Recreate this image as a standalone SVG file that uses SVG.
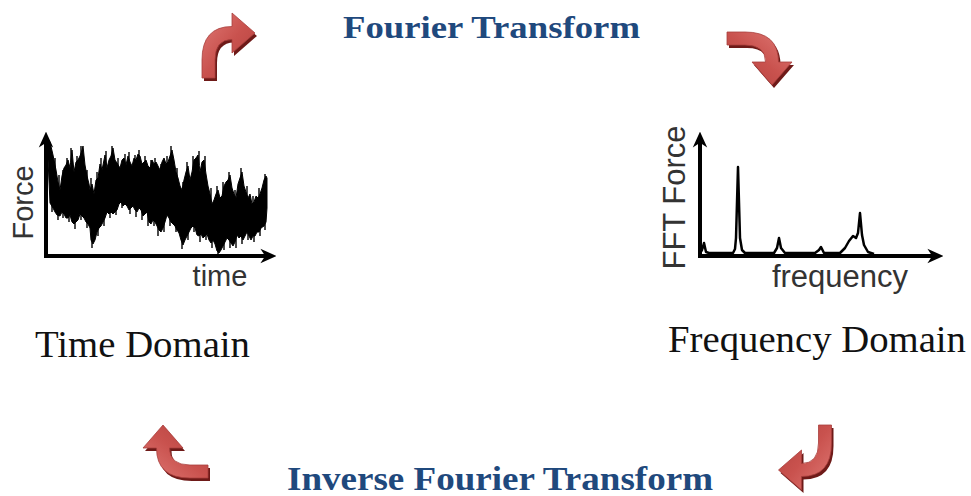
<svg xmlns="http://www.w3.org/2000/svg" width="971" height="496" viewBox="0 0 971 496">
  <style>
    .title { font-family: "Liberation Serif", "Times New Roman", serif; font-weight: bold; fill: #1f497d; }
    .domain { font-family: "Liberation Serif", "Times New Roman", serif; fill: #111; font-size: 37px; }
    .axis-label { font-family: "Liberation Sans", Arial, sans-serif; fill: #333; }
    .axis { stroke: #000; stroke-width: 4; fill: none; }
    .arrow-body { fill: url(#arrowFill); stroke: #a83f3c; stroke-width: 0.8; }
    .arrow-shadow { fill: #6e1a18; }
  </style>
  <defs>
    <linearGradient id="arrowFill" x1="0" y1="0" x2="1" y2="1">
      <stop offset="0" stop-color="#e07a76"/>
      <stop offset="0.5" stop-color="#c9524e"/>
      <stop offset="1" stop-color="#b2403d"/>
    </linearGradient>
    <!-- Curved arrow: shaft starts at the origin, bends and points right -->
    <path id="bentArrow" d="M -6.5 0 L -6.5 -18 Q -6.5 -51.5 23.5 -51.5 L 23.5 -65 L 46.5 -45 L 23.5 -25 L 23.5 -38.5 Q 6.5 -38.5 6.5 -18 L 6.5 0 Z"/>
    <marker id="axisHead" viewBox="0 0 10 10" refX="6" refY="5" markerWidth="4" markerHeight="4" orient="auto" markerUnits="strokeWidth">
      <path d="M 0 0.5 L 10 5 L 0 9.5 L 3 5 Z" fill="#000"/>
    </marker>
  </defs>

  <!-- Time domain plot -->
  <g id="time-domain">
    <path fill="#000" stroke="#000" stroke-width="1" d="M47,138 L50,142 53,155 56,170 58,182 60,190 62,176 64,168 66,165 68,160 70,168 72,150 74,172 76,162 78,160 80,156 82,150 83,146 85,165 87,176 89,184 90,190 92,184 94,194 96,180 98,178 100,164 102,170 104,160 105,155 107,168 109,160 111,156 113,148 115,160 117,163 120,168 122,160 124,158 126,165 128,156 130,162 132,166 134,158 136,160 138,154 140,156 142,164 144,162 146,160 148,166 150,168 152,160 154,164 156,162 158,166 160,170 162,162 164,158 166,164 168,162 170,156 172,150 174,160 176,172 178,178 180,186 182,190 184,180 186,172 188,166 190,180 192,172 194,160 196,158 198,155 200,172 202,162 204,160 206,174 208,186 210,194 212,204 214,200 216,194 218,190 220,198 222,196 224,186 226,182 228,180 230,175 232,188 234,194 236,198 238,184 240,178 242,172 244,186 246,192 248,198 250,194 252,204 254,202 256,196 258,198 260,194 262,188 264,180 266,176 267,178 L267,208 266,222 264,226 261,228 259,232 257,232 255,236 253,236 251,240 249,236 247,232 245,236 243,240 241,236 239,238 237,235 235,242 233,246 231,243 229,240 227,238 225,242 223,246 221,250 219,253 217,251 215,244 213,240 211,243 209,240 207,234 205,236 203,238 201,234 199,236 197,235 195,228 193,226 191,228 189,232 187,236 185,240 183,245 181,240 179,233 177,230 175,226 173,224 171,222 169,218 167,215 165,222 163,228 161,232 159,230 157,226 155,222 153,220 151,224 149,222 147,212 145,214 143,216 141,210 139,208 137,212 135,210 133,206 131,208 129,210 127,206 125,204 123,206 121,202 119,204 117,210 115,212 113,214 111,212 109,214 107,212 105,218 103,222 101,226 99,228 97,232 95,240 93,244 91,240 90,228 88,224 86,222 84,218 82,216 80,214 78,220 76,222 74,224 72,222 70,215 68,218 66,218 64,214 62,212 60,216 57,215 55,212 53,208 50,203 Z"/>
    <!-- hairline excursions along the edges of the trace -->
    <path fill="none" stroke="#000" stroke-width="1.4" d="M55,158 v14 M59,175 v14 M63,170 v14 M67,158 v14 M71,148 v14 M77,156 v14 M81,146 v14 M87,170 v14 M91,178 v14 M97,172 v14 M101,158 v14 M106,151 v14 M112,146 v14 M118,158 v14 M125,154 v14 M129,152 v14 M135,155 v14 M139,150 v14 M145,156 v14 M151,160 v14 M155,158 v14 M161,164 v14 M167,156 v14 M171,146 v14 M177,168 v14 M183,182 v14 M187,162 v14 M193,156 v14 M199,151 v14 M205,156 v14 M211,188 v14 M217,186 v14 M223,182 v14 M229,172 v14 M235,190 v14 M241,168 v14 M247,186 v14 M253,196 v14 M259,188 v14 M265,174 v14 M52,212 v-14 M58,220 v-14 M63,218 v-14 M69,222 v-14 M75,229 v-14 M81,220 v-14 M87,228 v-14 M92,248 v-14 M98,236 v-14 M104,226 v-14 M110,218 v-14 M116,215 v-14 M122,208 v-14 M130,214 v-14 M136,217 v-14 M142,220 v-14 M148,226 v-14 M154,226 v-14 M158,236 v-14 M164,232 v-14 M170,226 v-14 M176,232 v-14 M182,249 v-14 M188,240 v-14 M194,232 v-14 M200,242 v-14 M206,240 v-14 M212,248 v-14 M218,255 v-14 M224,250 v-14 M230,248 v-14 M236,248 v-14 M242,244 v-14 M248,240 v-14 M254,242 v-14 M260,236 v-14 M265,230 v-14"/>
    <path class="axis" d="M46,256 L46,138" marker-end="url(#axisHead)"/>
    <path class="axis" d="M44,256 L270,256" marker-end="url(#axisHead)"/>
    <text class="axis-label" font-size="29" text-anchor="middle" transform="translate(33,202.5) rotate(-90)">Force</text>
    <text class="axis-label" font-size="29" x="220" y="286" text-anchor="middle">time</text>
    <text class="domain" x="35" y="357" textLength="215" lengthAdjust="spacingAndGlyphs">Time Domain</text>
  </g>

  <!-- Frequency domain plot -->
  <g id="frequency-domain">
    <path fill="none" stroke="#000" stroke-width="2.5" stroke-linejoin="round" d="M700,253 L702,250 704,243 706,252 709,253 L733,253 735,249 736,238 738,167 740,238 742,250 745,253 L774,253 777,248 779,238 781,248 785,253 L815,253 819,250 821,247 824,253 L840,253 845,248 849,241 853,236 856,238 858,233 860,213 862,235 864,245 868,252 874,254"/>
    <path class="axis" d="M700,256 L700,138" stroke-width="5" marker-end="url(#axisHead)"/>
    <path class="axis" d="M698,256 L937,256" marker-end="url(#axisHead)"/>
    <text class="axis-label" font-size="31" text-anchor="middle" transform="translate(685,197.5) rotate(-90)">FFT Force</text>
    <text class="axis-label" font-size="31" x="840" y="287" text-anchor="middle">frequency</text>
    <text class="domain" x="668" y="352" textLength="298" lengthAdjust="spacingAndGlyphs">Frequency Domain</text>
  </g>

  <g id="fourier-transform">
    <text class="title" x="343" y="38" font-size="32" textLength="297" lengthAdjust="spacingAndGlyphs">Fourier Transform</text>
  </g>

  <g id="inverse-fourier-transform">
    <text class="title" x="287" y="490" font-size="33" textLength="426" lengthAdjust="spacingAndGlyphs">Inverse Fourier Transform</text>
  </g>

  <!-- Cycle arrows -->
  <g id="connectors">
    <g transform="translate(210.5,81)"><use href="#bentArrow" class="arrow-shadow"/></g>
    <g transform="translate(208.5,78)"><use href="#bentArrow" class="arrow-body"/></g>

    <g transform="translate(729,41.5) rotate(90)"><use href="#bentArrow" class="arrow-shadow"/></g>
    <g transform="translate(727,38.5) rotate(90)"><use href="#bentArrow" class="arrow-body"/></g>

    <g transform="translate(210,474.5) rotate(-90)"><use href="#bentArrow" class="arrow-shadow"/></g>
    <g transform="translate(208,471.5) rotate(-90)"><use href="#bentArrow" class="arrow-body"/></g>

    <g transform="translate(827,428) rotate(180)"><use href="#bentArrow" class="arrow-shadow"/></g>
    <g transform="translate(825,425) rotate(180)"><use href="#bentArrow" class="arrow-body"/></g>
  </g>
</svg>
